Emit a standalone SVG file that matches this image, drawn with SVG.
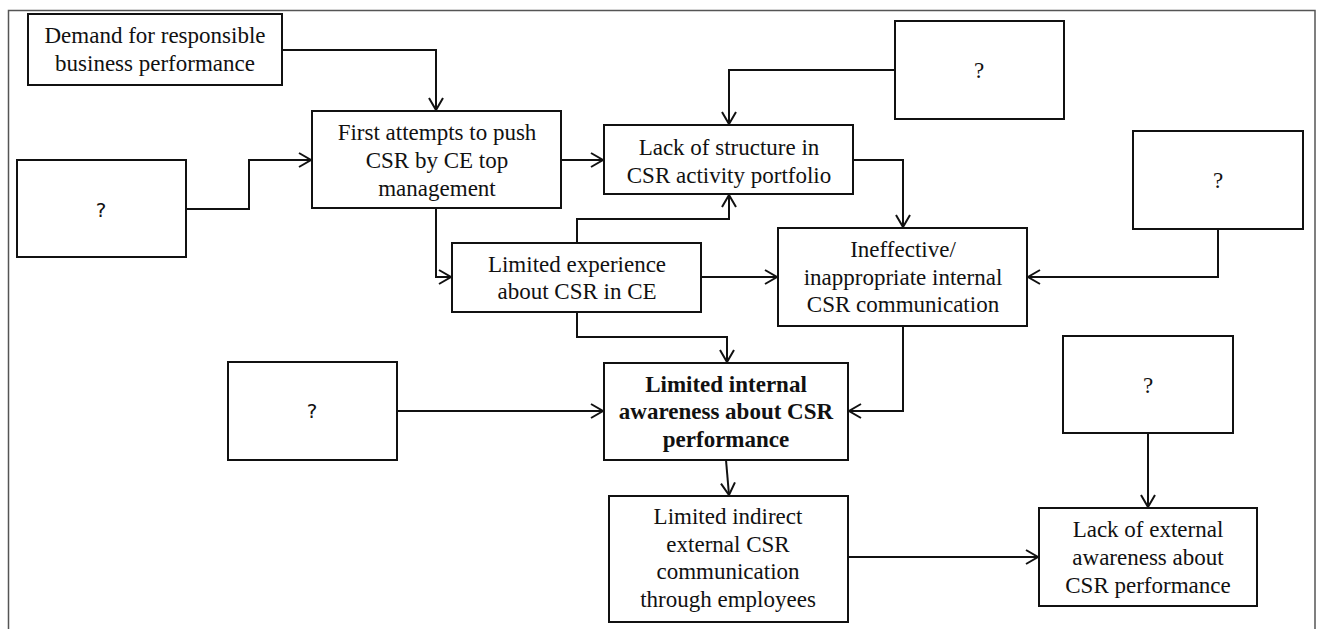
<svg xmlns="http://www.w3.org/2000/svg" width="1317" height="629" viewBox="0 0 1317 629">
<defs>
<style>
.box{fill:#fff;stroke:#111;stroke-width:2}
.t{font-family:"Liberation Serif","Times New Roman",serif;font-size:23px;fill:#111;text-anchor:middle}
.b{font-weight:bold}
.s{font-family:"DejaVu Sans","Liberation Sans",sans-serif;font-size:20px;fill:#111;text-anchor:middle}
.c{fill:none;stroke:#111;stroke-width:2}
</style>
<marker id="ah" markerUnits="userSpaceOnUse" markerWidth="16" markerHeight="18" refX="13" refY="8" orient="auto" viewBox="0 0 16 16">
<path d="M1,1 L13,8 L1,15" fill="none" stroke="#111" stroke-width="2"/>
</marker>
</defs>
<rect width="1317" height="629" fill="#fff"/>
<path d="M8.5,629 L8.5,10.5 L1315,10.5 L1315,629" fill="none" stroke="#555" stroke-width="1.5"/>
<g id="connectors">
<path class="c" d="M282,50 H436 V110" marker-end="url(#ah)"/>
<path class="c" d="M186,209 H249 V160 H311" marker-end="url(#ah)"/>
<path class="c" d="M561,160 H603" marker-end="url(#ah)"/>
<path class="c" d="M895,70 H729 V124" marker-end="url(#ah)"/>
<path class="c" d="M577,243 V219 H729 V195" marker-end="url(#ah)"/>
<path class="c" d="M436,208 V277 H451" marker-end="url(#ah)"/>
<path class="c" d="M853,160 H903 V227" marker-end="url(#ah)"/>
<path class="c" d="M701,277 H777" marker-end="url(#ah)"/>
<path class="c" d="M1218,229 V277 H1028" marker-end="url(#ah)"/>
<path class="c" d="M577,312 V337 H727 V362" marker-end="url(#ah)"/>
<path class="c" d="M397,411 H603" marker-end="url(#ah)"/>
<path class="c" d="M903,326 V411 H849" marker-end="url(#ah)"/>
<path class="c" d="M726,460 L729,495" marker-end="url(#ah)"/>
<path class="c" d="M1148,433 V507" marker-end="url(#ah)"/>
<path class="c" d="M848,557 H1038" marker-end="url(#ah)"/>
</g>
<g id="demand">
<rect class="box" x="28" y="14" width="254" height="71"/>
<text class="t" x="155" y="43">Demand for responsible</text>
<text class="t" x="155" y="71">business performance</text>
</g>
<g id="q-left">
<rect class="box" x="17" y="160" width="169" height="97"/>
<text class="s" x="101" y="217">?</text>
</g>
<g id="first-attempts">
<rect class="box" x="312" y="111" width="249" height="97"/>
<text class="t" x="437" y="140">First attempts to push</text>
<text class="t" x="437" y="168">CSR by CE top</text>
<text class="t" x="437" y="196">management</text>
</g>
<g id="lack-structure">
<rect class="box" x="604" y="125" width="249" height="69"/>
<text class="t" x="729" y="155">Lack of structure in</text>
<text class="t" x="729" y="183">CSR activity portfolio</text>
</g>
<g id="q-top">
<rect class="box" x="895" y="21" width="169" height="98"/>
<text class="t" x="979" y="78">?</text>
</g>
<g id="q-right">
<rect class="box" x="1133" y="131" width="170" height="98"/>
<text class="t" x="1218" y="188">?</text>
</g>
<g id="limited-experience">
<rect class="box" x="452" y="243" width="249" height="69"/>
<text class="t" x="577" y="272">Limited experience</text>
<text class="t" x="577" y="299">about CSR in CE</text>
</g>
<g id="ineffective">
<rect class="box" x="778" y="228" width="249" height="98"/>
<text class="t" x="903" y="257">Ineffective/</text>
<text class="t" x="903" y="285">inappropriate internal</text>
<text class="t" x="903" y="312">CSR communication</text>
</g>
<g id="q-mid">
<rect class="box" x="228" y="362" width="169" height="98"/>
<text class="s" x="312" y="418">?</text>
</g>
<g id="limited-internal">
<rect class="box" x="604" y="363" width="244" height="97"/>
<text class="t b" x="726" y="392">Limited internal</text>
<text class="t b" x="726" y="419">awareness about CSR</text>
<text class="t b" x="726" y="447">performance</text>
</g>
<g id="q-lower-right">
<rect class="box" x="1063" y="336" width="170" height="97"/>
<text class="t" x="1148" y="393">?</text>
</g>
<g id="limited-indirect">
<rect class="box" x="609" y="496" width="239" height="126"/>
<text class="t" x="728" y="524">Limited indirect</text>
<text class="t" x="728" y="552">external CSR</text>
<text class="t" x="728" y="579">communication</text>
<text class="t" x="728" y="607">through employees</text>
</g>
<g id="lack-external">
<rect class="box" x="1039" y="508" width="218" height="98"/>
<text class="t" x="1148" y="537">Lack of external</text>
<text class="t" x="1148" y="565">awareness about</text>
<text class="t" x="1148" y="593">CSR performance</text>
</g>
</svg>
